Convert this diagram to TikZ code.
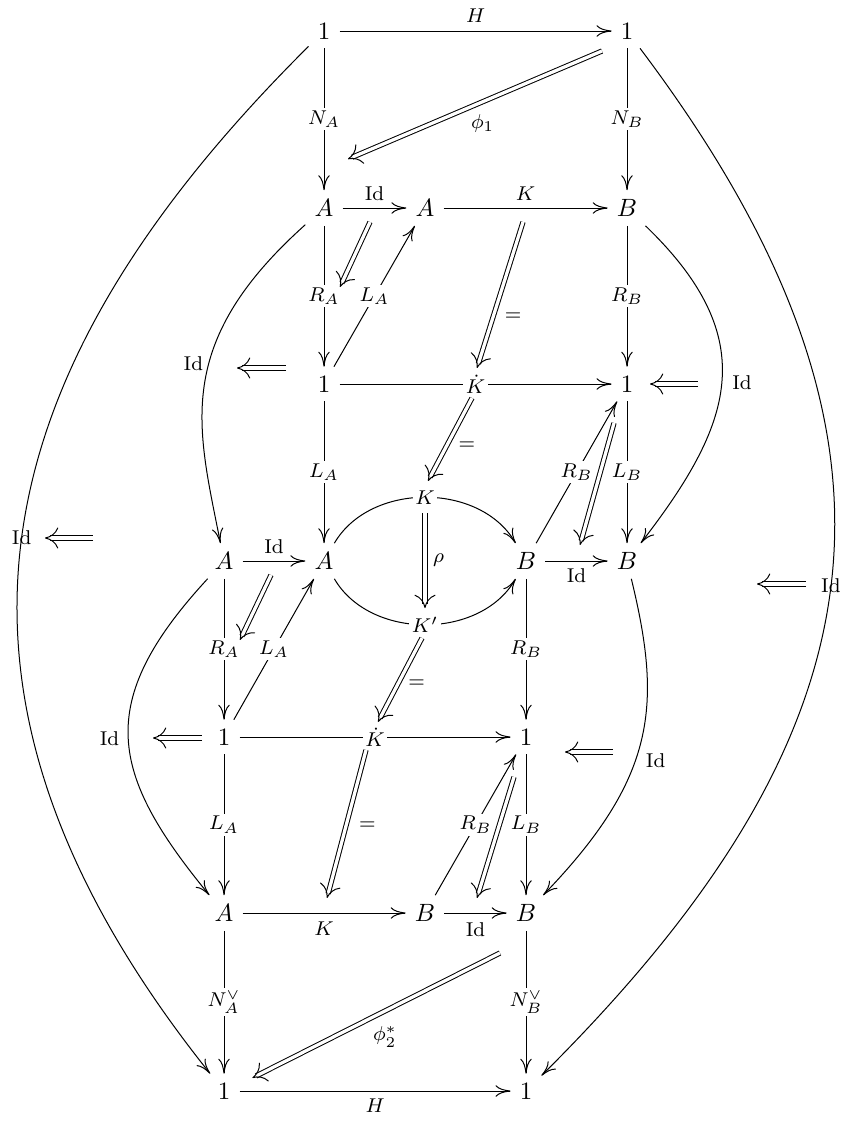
\documentclass[tikz,border=0pt]{standalone}
\usetikzlibrary{arrows.meta,decorations.markings}
\begin{document}
\begin{tikzpicture}[x=0.4pt,y=-0.4pt]
\tikzset{
 obj/.style={inner sep=3.5pt},
 ar/.style={line width=0.4pt,-{Computer Modern Rightarrow[length=6pt,width=4.6pt]}},
 dar/.style={line width=0.4pt,double,double distance=1.3pt,shorten >=1.8pt,
   postaction={decorate,decoration={markings,mark=at position 1 with
     {\pgfsetinnerlinewidth{0pt}\arrow[line width=0.4pt]{Computer Modern Rightarrow[length=5.3pt,width=8.4pt]}}}}},
 onl/.style={font=\footnotesize,inner sep=1pt,fill=white},
 lbl/.style={font=\footnotesize,inner sep=1pt},
}
\useasboundingbox (0,0) rectangle (843,1121);
% objects
\node[obj] (t1) at (324,31) {$1$};
\node[obj] (t2) at (627,31) {$1$};
\node[obj] (a1) at (324,208) {$A$};
\node[obj] (a2) at (425,208) {$A$};
\node[obj] (b1) at (627,208) {$B$};
\node[obj] (o1) at (324,384) {$1$};
\node[obj] (o2) at (627,384) {$1$};
\node[obj] (a3) at (224,561) {$A$};
\node[obj] (a4) at (324,561) {$A$};
\node[obj] (b2) at (526,561) {$B$};
\node[obj] (b3) at (627,561) {$B$};
\node[obj] (o3) at (224,737) {$1$};
\node[obj] (o4) at (526,737) {$1$};
\node[obj] (a5) at (224,913) {$A$};
\node[obj] (b4) at (425,913) {$B$};
\node[obj] (b5) at (526,913) {$B$};
\node[obj] (u1) at (224,1091) {$1$};
\node[obj] (u2) at (526,1091) {$1$};
% big curves
\draw[ar] (t1) .. controls (-18,371) and (-97,689) .. (u1) node[lbl,pos=0.5]{$\mathrm{Id}$};
\draw[ar] (t2) .. controls (942,449) and (880,739) .. (u2) node[lbl,pos=0.5]{$\mathrm{Id}$};
\draw[ar] (a1) .. controls (172,344) and (197.5,427) .. (a3) node[lbl,pos=0.43,left=1pt]{$\mathrm{Id}$};
\draw[ar] (b1) .. controls (764,340) and (732,425) .. (b3) node[lbl,pos=0.5,right=3pt]{$\mathrm{Id}$};
\draw[ar] (a3) .. controls (93,703) and (110,774) .. (a5) node[lbl,pos=0.5,left=2.4pt]{$\mathrm{Id}$};
\draw[ar] (b3) .. controls (662,705) and (657,777) .. (b5) node[lbl,pos=0.57,right=3pt]{$\mathrm{Id}$};
\draw[ar] (a4) .. controls (370,482) and (480,482) .. (b2) node[onl,pos=0.5]{$K$};
\draw[ar] (a4) .. controls (370,640) and (480,640) .. (b2) node[onl,pos=0.5]{$K'$};
% straight arrows
\draw[ar] (t1) -- node[lbl,above=2.2pt]{$H$} (t2);
\draw[ar] (t1) -- node[onl]{$N_A$} (a1);
\draw[ar] (t2) -- node[onl]{$N_B$} (b1);
\draw[ar] (a1) -- node[lbl,above=2pt]{$\mathrm{Id}$} (a2);
\draw[ar] (a2) -- node[lbl,above=2pt]{$K$} (b1);
\draw[ar] (a1) -- node[onl]{$R_A$} (o1);
\draw[ar] (o1) -- node[onl]{$L_A$} (a2);
\draw[ar] (b1) -- node[onl]{$R_B$} (o2);
\draw[ar] (o1) -- node[onl]{$\dot K$} (o2);
\draw[ar] (o1) -- node[onl]{$L_A$} (a4);
\draw[ar] (o2) -- node[onl]{$L_B$} (b3);
\draw[ar] (b2) -- node[onl]{$R_B$} (o2);
\draw[ar] (a3) -- node[lbl,above=2pt]{$\mathrm{Id}$} (a4);
\draw[ar] (b2) -- node[lbl,below=2pt]{$\mathrm{Id}$} (b3);
\draw[ar] (a3) -- node[onl]{$R_A$} (o3);
\draw[ar] (o3) -- node[onl]{$L_A$} (a4);
\draw[ar] (b2) -- node[onl]{$R_B$} (o4);
\draw[ar] (o3) -- node[onl]{$\dot K$} (o4);
\draw[ar] (o3) -- node[onl]{$L_A$} (a5);
\draw[ar] (o4) -- node[onl]{$L_B$} (b5);
\draw[ar] (b4) -- node[onl]{$R_B$} (o4);
\draw[ar] (a5) -- node[lbl,below=2.5pt]{$K$} (b4);
\draw[ar] (b4) -- node[lbl,below=2.5pt]{$\mathrm{Id}$} (b5);
\draw[ar] (a5) -- node[onl]{$N_A^\vee$} (u1);
\draw[ar] (b5) -- node[onl]{$N_B^\vee$} (u2);
\draw[ar] (u1) -- node[lbl,below=2pt]{$H$} (u2);
% 2-cell end points
\coordinate (d1s) at (602,51);  \coordinate (d1e) at (348,159);
\coordinate (d2s) at (370,222); \coordinate (d2e) at (340,287);
\coordinate (d3s) at (523,222); \coordinate (d3e) at (477,368);
\coordinate (d4s) at (472,398); \coordinate (d4e) at (428,481);
\coordinate (d5s) at (425,513); \coordinate (d5e) at (425,608);
\coordinate (d6s) at (422,638); \coordinate (d6e) at (378,722);
\coordinate (d7s) at (366,750); \coordinate (d7e) at (327,898);
\coordinate (d8s) at (614,423); \coordinate (d8e) at (580,545);
\coordinate (d9s) at (514,777); \coordinate (d9e) at (477,898);
\coordinate (d10s) at (271,575); \coordinate (d10e) at (240,640);
\coordinate (d11s) at (500,953); \coordinate (d11e) at (252,1078);
\coordinate (e1s) at (286,368); \coordinate (e1e) at (237,368);
\coordinate (e2s) at (698,384); \coordinate (e2e) at (650,384);
\coordinate (e3s) at (93,538);  \coordinate (e3e) at (45,538);
\coordinate (e4s) at (806,584); \coordinate (e4e) at (757,584);
\coordinate (e5s) at (202,738); \coordinate (e5e) at (153,738);
\coordinate (e6s) at (613,752); \coordinate (e6e) at (565,752);
% 2-cells
\draw[dar] (d1s) -- node[lbl,pos=0.47,below=4pt]{$\phi_1$} (d1e);
\draw[dar] (d2s) -- (d2e);
\draw[dar] (d3s) -- node[lbl,pos=0.65,right=3.5pt]{$=$} (d3e);
\draw[dar] (d4s) -- node[lbl,pos=0.57,right=3.5pt]{$=$} (d4e);
\draw[dar] (d5s) -- node[lbl,pos=0.5,right=2pt]{$\rho$} (d5e);
\draw[dar] (d6s) -- node[lbl,pos=0.55,right=3pt]{$=$} (d6e);
\draw[dar] (d7s) -- node[lbl,pos=0.51,right=4pt]{$=$} (d7e);
\draw[dar] (d8s) -- (d8e);
\draw[dar] (d9s) -- (d9e);
\draw[dar] (d10s) -- (d10e);
\draw[dar] (d11s) -- node[lbl,pos=0.464,below=5pt]{$\phi_2^*$} (d11e);
\draw[dar] (e1s) -- (e1e);
\draw[dar] (e2s) -- (e2e);
\draw[dar] (e3s) -- (e3e);
\draw[dar] (e4s) -- (e4e);
\draw[dar] (e5s) -- (e5e);
\draw[dar] (e6s) -- (e6e);
\end{tikzpicture}
\end{document}
